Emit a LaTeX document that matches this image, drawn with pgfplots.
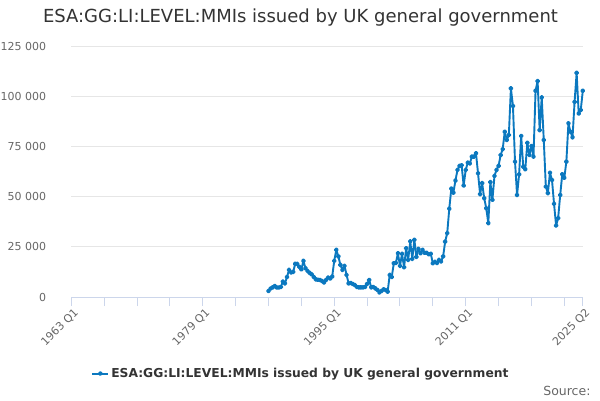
\documentclass[border=0pt]{standalone}
\usepackage{pgfplots}
\usepackage{pgfplotstable}
\pgfplotsset{compat=1.18}
\usepackage{fontspec}
\setmainfont{DejaVu Sans}
\definecolor{linec}{HTML}{0B78BF}
\definecolor{gridc}{HTML}{E6E6E6}
\definecolor{axisc}{HTML}{CCD6EB}
\definecolor{tickc}{HTML}{666666}
\definecolor{titlec}{HTML}{333333}
\pgfplotstableread{
q v
96 3000
97 4200
98 4800
99 5500
100 4700
101 4700
102 5000
103 7700
104 6800
105 10000
106 13500
107 12200
108 12500
109 16500
110 16500
111 15000
112 13800
113 18000
114 14300
115 13000
116 12000
117 11300
118 10000
119 8800
120 8600
121 8500
122 8000
123 7200
124 8500
125 9700
126 9200
127 10200
128 18000
129 23500
130 20200
131 16000
132 13500
133 15500
134 11000
135 6800
136 7000
137 6500
138 6000
139 5000
140 4800
141 4800
142 4800
143 5000
144 6500
145 8500
146 4800
147 5000
148 4300
149 3500
150 2300
151 3000
152 3800
153 3500
154 2700
155 11000
156 10000
157 16800
158 17000
159 21800
160 15500
161 21500
162 14800
163 24300
164 18500
165 27700
166 19000
167 28500
168 20000
169 24000
170 21800
171 23500
172 22000
173 22000
174 21300
175 21500
176 16800
177 17500
178 16900
179 18500
180 17700
181 20200
182 27600
183 31800
184 44000
185 54000
186 52000
187 58000
188 63300
189 65300
190 65600
191 55500
192 63300
193 66900
194 66500
195 69900
196 69900
197 71600
198 61600
199 51200
200 56700
201 49200
202 44200
203 36800
204 57200
205 48400
206 60300
207 63300
208 65300
209 70700
210 73600
211 82300
212 78200
213 80700
214 103900
215 95100
216 67400
217 50800
218 61100
219 80200
220 64900
221 63600
222 76800
223 70700
224 75200
225 69900
226 102700
227 107500
228 83100
229 99400
230 78200
231 55000
232 51700
233 61900
234 58300
235 46400
236 35600
237 39300
238 50800
239 61100
240 59400
241 67400
242 86500
243 82300
244 79500
245 97200
246 111600
247 91400
248 93100
249 102700
}\datatable
\begin{document}
\begin{tikzpicture}
\path[use as bounding box] (0pt,0pt) rectangle (600pt,400pt);
\begin{axis}[
  at={(71.3pt,103pt)}, anchor=south west,
  scale only axis, width=511.5pt, height=251pt,
  xmin=0, xmax=249, ymin=0, ymax=125000,
  axis x line*=bottom, axis y line*=left,
  y axis line style={draw=none},
  x axis line style={draw=axisc, line width=1pt, -},
  xtick={0,64,128,192,249},
  xticklabels={1963 Q1,1979 Q1,1995 Q1,2011 Q1,2025 Q2},
  minor xtick={16,32,48,80,96,112,144,160,176,208,224,240},
  x tick style={draw=axisc, line width=1pt},
  major tick length=9pt, minor tick length=9pt, tick align=outside,
  y tick style={draw=none},
  ytick={0,25000,50000,75000,100000,125000},
  yticklabels={0,25 000,50 000,75 000,100 000,125 000},
  scaled y ticks=false,
  ymajorgrids, grid style={draw=gridc, line width=1pt},
  xticklabel style={rotate=45, anchor=east, font=\fontsize{11}{13}\selectfont, text=tickc, inner sep=1pt, yshift=-7pt, xshift=1.5pt},
  yticklabel style={font=\fontsize{11}{13}\selectfont, text=tickc, inner sep=0pt, xshift=-16pt},
  clip=false,
  legend style={at={(axis description cs:0.449,-0.305)}, anchor=center, draw=none, fill=none,
    font=\bfseries\fontsize{12.3}{15}\selectfont, text=titlec},
  legend image code/.code={\draw[mark repeat=2,mark phase=2] plot coordinates {(0pt,0pt) (8pt,0pt) (16pt,0pt)};},
]
\addplot[color=linec, line width=1.9pt, mark=*, mark size=1.5pt, line join=round] table[x=q,y=v] {\datatable};
\addlegendentry{ESA:GG:LI:LEVEL:MMIs issued by UK general government}
\end{axis}
\node[text=titlec, font=\fontsize{18}{21}\selectfont] at (300.5pt,382pt) {ESA:GG:LI:LEVEL:MMIs issued by UK general government};
\node[text=tickc, font=\fontsize{12.5}{15}\selectfont, anchor=east] at (594pt,9pt) {Source:};
\end{tikzpicture}
\end{document}
